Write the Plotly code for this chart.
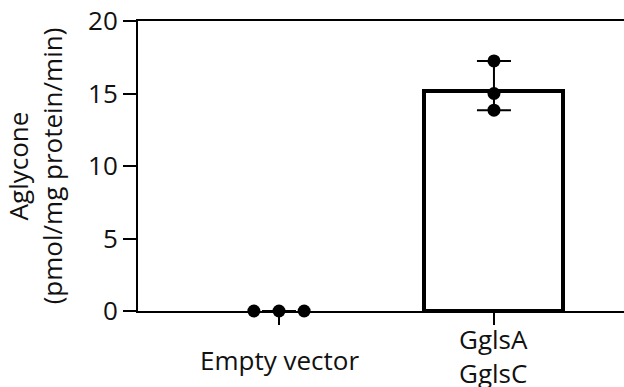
import plotly.graph_objects as go

# ---- data ----
categories = ["Empty vector", "GglsA<br>GglsC"]
empty_vals = [0.0, 0.0, 0.0]
ggls_vals = [17.25, 15.0, 13.85]
bar_means = [0.0, 15.2]
y_ticks = [0, 5, 10, 15, 20]

# error bars span the range of the replicate points
groups = [empty_vals, ggls_vals]
err_plus = [max(g) - m for g, m in zip(groups, bar_means)]
err_minus = [m - min(g) for g, m in zip(groups, bar_means)]

FONT = "Open Sans"
FS = 26
INK = "#111111"
jitter = [-0.117, 0.0, 0.117]
label_shift = [-49, -45]

fig = go.Figure()
fig.add_trace(go.Bar(
    x=[0, 1], y=bar_means, width=0.647,
    marker=dict(color="white", line=dict(color="black", width=[0, 4])),
    error_y=dict(type="data", symmetric=False, array=err_plus,
                 arrayminus=err_minus, visible=True, color="black",
                 thickness=2, width=17),
    showlegend=False,
))
fig.add_trace(go.Scatter(
    x=[0 + j for j in jitter], y=empty_vals, mode="markers",
    marker=dict(color="black", size=13), cliponaxis=False, showlegend=False,
))
fig.add_trace(go.Scatter(
    x=[1, 1, 1], y=ggls_vals, mode="markers",
    marker=dict(color="black", size=13), cliponaxis=False, showlegend=False,
))

for i, lab in enumerate(categories):
    fig.add_annotation(x=i, xref="x", y=0, yref="paper", text=lab,
                       showarrow=False, yanchor="middle", yshift=label_shift[i],
                       font=dict(family=FONT, size=FS, color=INK))

fig.update_layout(
    width=624, height=387,
    margin=dict(l=138, r=0, t=21, b=76),
    paper_bgcolor="white", plot_bgcolor="white",
    font=dict(family=FONT, size=FS, color=INK),
    bargap=0,
)
fig.update_xaxes(
    range=[-0.656, 1.605], tickvals=[0, 1], showticklabels=False,
    ticks="outside", ticklen=12, tickwidth=2, tickcolor="black",
    showline=True, linecolor="black", linewidth=2, mirror=True,
    showgrid=False, zeroline=False,
)
fig.update_yaxes(
    range=[0, 20], tickvals=y_ticks,
    ticks="outside", ticklen=13, tickwidth=2, tickcolor="black",
    showline=True, linecolor="black", linewidth=2,
    showgrid=False, zeroline=False,
    tickfont=dict(family=FONT, size=FS, color=INK),
    title=dict(text="Aglycone<br>(pmol/mg protein/min)", standoff=34,
               font=dict(family=FONT, size=FS, color=INK)),
)

fig.write_html("out.html")
